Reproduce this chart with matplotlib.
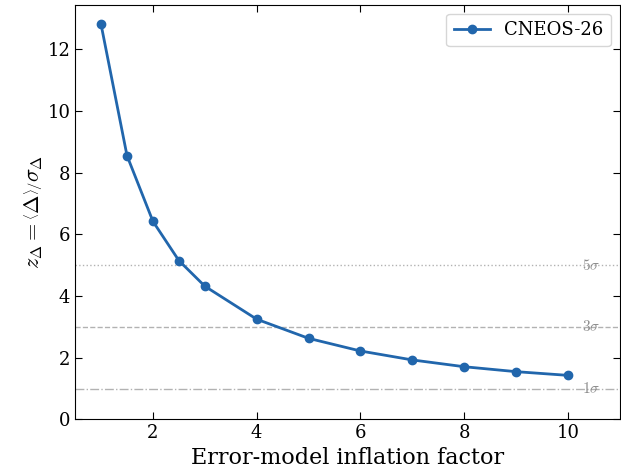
import numpy as np
import matplotlib
matplotlib.use("Agg")
import matplotlib.pyplot as plt

plt.rcParams['font.family'] = 'DejaVu Serif'
plt.rcParams['mathtext.fontset'] = 'cm'

inflation = [1, 1.5, 2, 2.5, 3, 4, 5, 6, 7, 8, 9, 10]
z_delta = [12.8, 8.55, 6.42, 5.15, 4.32, 3.25, 2.63, 2.22, 1.93, 1.71, 1.55, 1.43]

sigma_levels = [5, 3, 1]
sigma_styles = [':', '--', '-.']

fig, ax = plt.subplots(figsize=(6.21, 4.74), dpi=100)
fig.subplots_adjust(left=0.121, right=0.998, top=0.99, bottom=0.115)

ax.plot(inflation, z_delta, marker='o', color='#2166ac', lw=2, ms=6, label='CNEOS-26')

for lvl, ls in zip(sigma_levels, sigma_styles):
  ax.axhline(lvl, color='gray', ls=ls, lw=1, alpha=0.6, zorder=0)
  ax.text(10.45, lvl, f'${lvl}\\sigma$', color='gray', fontsize=11, ha='center', va='center', alpha=0.9)

ax.set_xlim(0.5, 11)
ax.set_ylim(0, max(z_delta) * 1.05)
ax.set_xlabel('Error-model inflation factor', fontsize=16, labelpad=3)
ax.set_ylabel(r'$z_\Delta = \left\langle \Delta \right\rangle \left/ \sigma_\Delta \right.$',
              fontsize=16, labelpad=2)
ax.tick_params(direction='in', top=True, right=True, labelsize=13, length=5)
ax.legend(loc='upper right', fontsize=13)

fig.savefig('out.png', dpi=100)
